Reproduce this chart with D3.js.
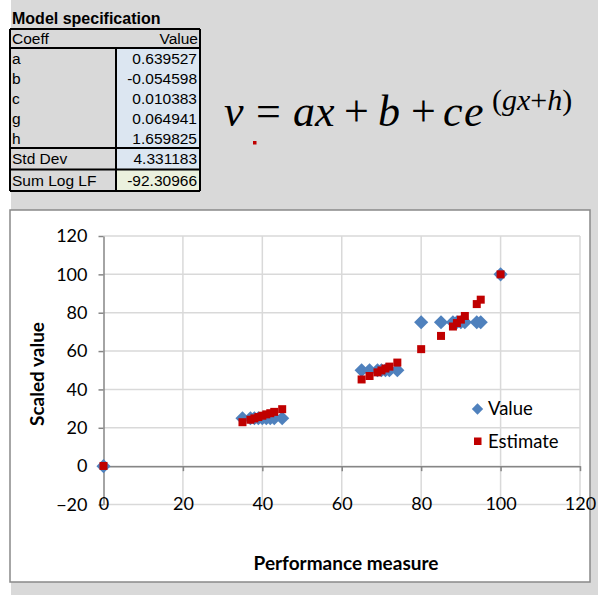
<!DOCTYPE html>
<html lang="en">
<head>
  <meta charset="UTF-8">
  <title>Model specification</title>
  <script src="https://d3js.org/d3.v7.min.js"></script>
  <style>
    body { margin: 0; background: #fff; }
    svg { display: block; }
  </style>
</head>
<body>

  <script>
    ((window, document) => {
      "use strict";

      /**
       * -----------------------------------------------------------------------
       *  Data
       * -----------------------------------------------------------------------
       */
      const COEFF_NAMES = ["a", "b", "c", "g", "h"];
      const COEFF_VALUES = ["0.639527", "-0.054598", "0.010383", "0.064941", "1.659825"];
      const STAT_NAMES = ["Std Dev", "Sum Log LF"];
      const STAT_VALUES = ["4.331183", "-92.30966"];

      const PERFORMANCE = [
        0,
        35, 37, 38, 39, 40, 41, 42, 43, 45,
        65, 67, 69, 70, 71, 72, 74,
        80, 85, 88, 89, 90, 91, 94, 95,
        100,
      ];
      const VALUES = [
        0,
        25, 25, 25, 25, 25, 25, 25, 25, 25,
        50, 50, 50, 50, 50, 50, 50,
        75, 75, 75, 75, 75, 75, 75, 75,
        100,
      ];
      const ESTIMATES = [
        0.1,
        22.9, 24.2, 24.9, 25.6, 26.3, 27.0, 27.6, 28.3, 29.7,
        45.2, 47.0, 48.9, 49.9, 50.9, 51.9, 54.0,
        61.0, 67.9, 72.8, 74.6, 76.4, 78.3, 84.5, 86.8,
        100.0,
      ];

      const X_TICKS = [0, 20, 40, 60, 80, 100, 120];
      const Y_TICKS = [-20, 0, 20, 40, 60, 80, 100, 120];
      const LEGEND = ["Value", "Estimate"];

      const BLUE = "#4f81bd";
      const RED = "#c00000";
      const GRID = "#d9d9d9";
      const AXIS = "#868686";


      /**
       * -----------------------------------------------------------------------
       *  Render
       * -----------------------------------------------------------------------
       */
      let svg = d3.select("body").append("svg")
          .attr("width", 598)
          .attr("height", 595);

      // sheet background
      svg.append("rect")
          .attr("x", 11).attr("y", 0)
          .attr("width", 587).attr("height", 595)
          .attr("fill", "#d9d9d9");

      drawTable();
      drawFormula();
      drawChart();


      /**
       * -----------------------------------------------------------------------
       *  Function
       * -----------------------------------------------------------------------
       */

      /**
       * Spreadsheet block with the fitted coefficients
       */
      function drawTable () {
        let g = svg.append("g")
            .attr("font-family", "'Liberation Sans', Arial, sans-serif")
            .attr("font-size", 15.5)
            .attr("fill", "#000");
        let left = 10, mid = 116, right = 200;
        let top = 29, headH = 19, rowH = 20, statH = 21.5;
        let rowsTop = top + headH;
        let statsTop = rowsTop + rowH * COEFF_NAMES.length;
        let bottom = statsTop + statH * STAT_NAMES.length;

        g.append("text")
            .attr("x", 12).attr("y", 24)
            .attr("font-size", 16)
            .attr("font-weight", "bold")
            .text("Model specification");

        // value cells
        g.append("rect")
            .attr("x", mid).attr("y", rowsTop)
            .attr("width", right - mid).attr("height", statsTop + statH - rowsTop)
            .attr("fill", "#dce6f1");
        g.append("rect")
            .attr("x", mid).attr("y", statsTop + statH)
            .attr("width", right - mid).attr("height", statH)
            .attr("fill", "#ebf1de");

        g.append("text").attr("x", left + 2).attr("y", top + headH / 2)
            .attr("dy", "0.36em").text("Coeff");
        g.append("text").attr("x", right - 2).attr("y", top + headH / 2)
            .attr("dy", "0.36em").attr("text-anchor", "end").text("Value");

        COEFF_NAMES.forEach((name, i) => {
          let cy = rowsTop + rowH * i + rowH / 2;
          g.append("text").attr("x", left + 2).attr("y", cy)
              .attr("dy", "0.36em").text(name);
          g.append("text").attr("x", right - 3).attr("y", cy)
              .attr("dy", "0.36em").attr("text-anchor", "end").text(COEFF_VALUES[i]);
        });
        STAT_NAMES.forEach((name, i) => {
          let cy = statsTop + statH * i + statH / 2;
          g.append("text").attr("x", left + 2).attr("y", cy)
              .attr("dy", "0.36em").text(name);
          g.append("text").attr("x", right - 3).attr("y", cy)
              .attr("dy", "0.36em").attr("text-anchor", "end").text(STAT_VALUES[i]);
        });

        // borders
        let lines = [
          [left, top, right, top],
          [left, rowsTop, right, rowsTop],
          [left, statsTop, right, statsTop],
          [left, statsTop + statH, right, statsTop + statH],
          [left, bottom, right, bottom],
          [left, top, left, bottom],
          [right, top, right, bottom],
          [mid, rowsTop, mid, bottom],
        ];
        g.selectAll("line").data(lines).enter().append("line")
            .attr("x1", d => d[0]).attr("y1", d => d[1])
            .attr("x2", d => d[2]).attr("y2", d => d[3])
            .attr("stroke", "#000")
            .attr("stroke-width", 2);
      }

      /**
       * Model formula
       */
      function drawFormula () {
        let g = svg.append("g")
            .attr("font-family", "'Liberation Serif', 'Times New Roman', serif")
            .attr("fill", "#000");
        let main = [
          { t: "v", x: 224, it: true },
          { t: "=", x: 256, it: false },
          { t: "a", x: 293, it: true },
          { t: "x", x: 315, it: true },
          { t: "+", x: 344, it: false },
          { t: "b", x: 378, it: true },
          { t: "+", x: 411, it: false },
          { t: "c", x: 443, it: true },
          { t: "e", x: 464, it: true },
        ];
        g.selectAll("text.main").data(main).enter().append("text")
            .attr("class", "main")
            .attr("x", d => d.x).attr("y", 126)
            .attr("font-size", 44)
            .attr("font-style", d => d.it ? "italic" : "normal")
            .text(d => d.t);

        let sup = g.append("text")
            .attr("x", 492).attr("y", 110)
            .attr("font-size", 30);
        sup.append("tspan").text("(");
        sup.append("tspan").attr("font-style", "italic").text("gx");
        sup.append("tspan").text("+");
        sup.append("tspan").attr("font-style", "italic").text("h");
        sup.append("tspan").text(")");

        // stray marker left on the sheet
        svg.append("rect")
            .attr("x", 253).attr("y", 141)
            .attr("width", 3.5).attr("height", 3.5)
            .attr("fill", RED);
      }

      /**
       * Scatter chart of values vs estimates
       */
      function drawChart () {
        svg.append("rect")
            .attr("x", 10).attr("y", 210)
            .attr("width", 580).attr("height", 372)
            .attr("fill", "#fff")
            .attr("stroke", "#898989")
            .attr("stroke-width", 1.5);

        let x = d3.scaleLinear().domain([0, 120]).range([103.5, 580]);
        let y = d3.scaleLinear().domain([-20, 120]).range([504.5, 236]);

        let grid = svg.append("g")
            .attr("stroke", GRID)
            .attr("stroke-width", 1.5);
        grid.selectAll("line.h").data(Y_TICKS).enter().append("line")
            .attr("class", "h")
            .attr("x1", x(0)).attr("x2", x(120))
            .attr("y1", d => y(d)).attr("y2", d => y(d));
        grid.selectAll("line.v").data(X_TICKS.slice(1)).enter().append("line")
            .attr("class", "v")
            .attr("x1", d => x(d)).attr("x2", d => x(d))
            .attr("y1", y(-20)).attr("y2", y(120));

        let font = "Lato, 'Open Sans', sans-serif";

        let yAxis = svg.append("g")
            .attr("transform", `translate(${x(0)},0)`)
            .call(d3.axisLeft(y).tickValues(Y_TICKS).tickSize(5)
              .tickSizeOuter(0).tickPadding(11).tickFormat(d3.format("d")));
        yAxis.selectAll("path, line").attr("stroke", AXIS).attr("stroke-width", 1.5);
        yAxis.selectAll("text")
            .attr("font-family", font).attr("font-size", 18).attr("fill", "#000");

        let xAxis = svg.append("g")
            .attr("transform", `translate(0,${y(0)})`)
            .call(d3.axisBottom(x).tickValues(X_TICKS).tickSize(5)
              .tickSizeOuter(0).tickFormat(d3.format("d")));
        xAxis.selectAll("path, line").attr("stroke", AXIS).attr("stroke-width", 1.5);
        xAxis.selectAll("text")
            .attr("font-family", font).attr("font-size", 18).attr("fill", "#000")
            .attr("y", y(-20) - y(0)).attr("dy", "0.3em");

        svg.append("text")
            .attr("x", 346).attr("y", 570)
            .attr("text-anchor", "middle")
            .attr("font-family", font).attr("font-size", 19).attr("font-weight", "bold")
            .text("Performance measure");
        svg.append("text")
            .attr("transform", `translate(44,374) rotate(-90)`)
            .attr("text-anchor", "middle")
            .attr("font-family", font).attr("font-size", 19).attr("font-weight", "bold")
            .text("Scaled value");

        let points = PERFORMANCE.map((p, i) => ({ p, v: VALUES[i], e: ESTIMATES[i] }));
        let diamond = d3.symbol().type(d3.symbolSquare).size(100);

        svg.append("g").selectAll("path").data(points).enter().append("path")
            .attr("d", diamond)
            .attr("transform", d => `translate(${x(d.p)},${y(d.v)}) rotate(45)`)
            .attr("fill", BLUE);
        svg.append("g").selectAll("rect").data(points).enter().append("rect")
            .attr("x", d => x(d.p) - 4).attr("y", d => y(d.e) - 4)
            .attr("width", 8).attr("height", 8)
            .attr("fill", RED);

        // legend
        let legend = svg.append("g")
            .attr("font-family", font).attr("font-size", 18.5);
        legend.append("path")
            .attr("d", diamond)
            .attr("transform", "translate(477.5,409) rotate(45) scale(0.8)")
            .attr("fill", BLUE);
        legend.append("rect")
            .attr("x", 474).attr("y", 437.5).attr("width", 7.5).attr("height", 7.5)
            .attr("fill", RED);
        legend.selectAll("text").data(LEGEND).enter().append("text")
            .attr("x", 488)
            .attr("y", (d, i) => 409 + i * 32.5)
            .attr("dy", "0.35em")
            .text(d => d);
      }

    })(window, document);
</script>

</body>
</html>
